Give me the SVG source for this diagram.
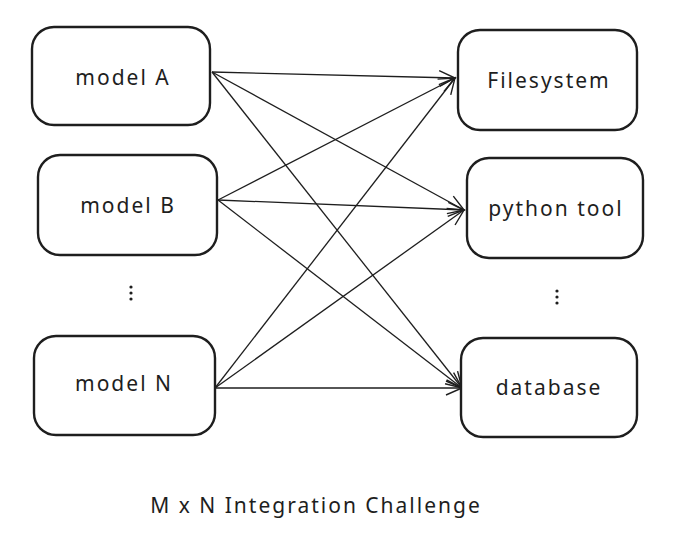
<svg xmlns="http://www.w3.org/2000/svg" width="676" height="553" viewBox="0 0 676 553">
<style>
.box{fill:#fff;stroke:#1e1e1e;stroke-width:2.4}
.lbl{font-family:"Noto Sans","DejaVu Sans",sans-serif;font-size:21px;letter-spacing:2px;fill:#1e1e1e;text-anchor:middle;dominant-baseline:central}
.edge{stroke:#1e1e1e;stroke-width:1.3;fill:none;marker-end:url(#ah)}
.dot{fill:#1e1e1e}
</style>
<defs>
<marker id="ah" viewBox="0 0 20 20" refX="18" refY="10" markerWidth="20" markerHeight="20" markerUnits="userSpaceOnUse" orient="auto">
<path d="M2,3 L18,10 L2,17" fill="none" stroke="#1e1e1e" stroke-width="1.4"/>
</marker>
</defs>
<rect width="676" height="553" fill="#fff"/>
<g id="connectors">
<line class="edge" x1="212" y1="72" x2="455" y2="78"/>
<line class="edge" x1="212" y1="72" x2="464" y2="210"/>
<line class="edge" x1="212" y1="72" x2="462" y2="388"/>
<line class="edge" x1="218" y1="200" x2="455" y2="78"/>
<line class="edge" x1="218" y1="200" x2="464" y2="210"/>
<line class="edge" x1="218" y1="200" x2="462" y2="388"/>
<line class="edge" x1="215" y1="388" x2="455" y2="78"/>
<line class="edge" x1="215" y1="388" x2="464" y2="210"/>
<line class="edge" x1="215" y1="388" x2="462" y2="388"/>
</g>
<g id="modelA"><rect class="box" x="32" y="27" width="178" height="98" rx="22"/><text class="lbl" x="123" y="77">model A</text></g>
<g id="modelB"><rect class="box" x="38" y="155" width="179" height="100" rx="22"/><text class="lbl" x="128" y="205">model B</text></g>
<g id="modelN"><rect class="box" x="34" y="336" width="181" height="99" rx="22"/><text class="lbl" x="124" y="383">model N</text></g>
<g id="filesystem"><rect class="box" x="458" y="30" width="179" height="100" rx="22"/><text class="lbl" x="549" y="80">Filesystem</text></g>
<g id="pythontool"><rect class="box" x="467" y="158" width="176" height="100" rx="22"/><text class="lbl" x="556" y="208">python tool</text></g>
<g id="database"><rect class="box" x="461" y="338" width="176" height="99" rx="22"/><text class="lbl" x="549" y="387">database</text></g>
<g id="dotsLeft"><circle class="dot" cx="131" cy="287" r="1.6"/><circle class="dot" cx="131" cy="293" r="1.6"/><circle class="dot" cx="131" cy="299" r="1.6"/></g>
<g id="dotsRight"><circle class="dot" cx="557" cy="291" r="1.6"/><circle class="dot" cx="557" cy="297" r="1.6"/><circle class="dot" cx="557" cy="303" r="1.6"/></g>
<text id="title" class="lbl" x="316" y="505">M x N Integration Challenge</text>
</svg>
